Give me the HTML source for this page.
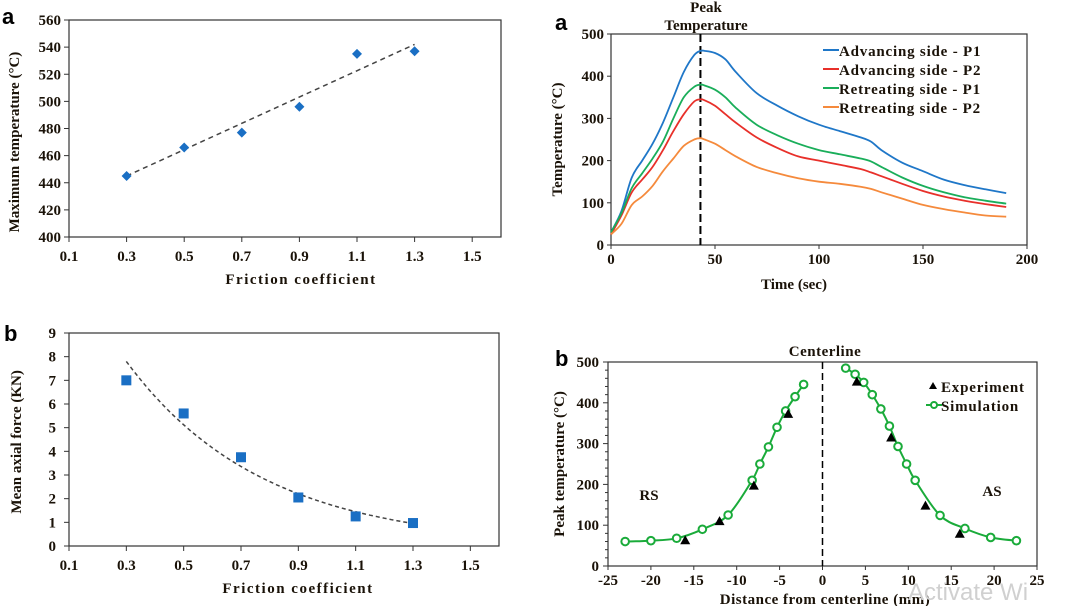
<!DOCTYPE html>
<html><head><meta charset="utf-8"><style>
html,body{margin:0;padding:0;background:#fff;}
svg{display:block;font-family:"Liberation Serif",serif;font-weight:bold;}
.t{font-size:15px;fill:#1a1208;}
.lab{font-family:"Liberation Sans",sans-serif;font-size:22px;fill:#000;font-weight:bold;}
</style></head><body>
<svg id="c" width="1065" height="606" viewBox="0 0 1065 606" xmlns="http://www.w3.org/2000/svg"></svg>
<script>
// Panel A-left: max temperature vs friction
const fricCats = [0.3,0.5,0.7,0.9,1.1,1.3];
const maxTemp = [445,466,477,496,535,537];
const maxTempTrend = [445,542];
// Panel B-left: axial force vs friction
const axialForce = [7.0,5.6,3.75,2.05,1.25,0.97];
const forceTrendStart = 7.8, forceTrendEnd = 0.95;
const fricTicks = ['0.1','0.3','0.5','0.7','0.9','1.1','1.3','1.5'];
// Panel A-right: thermal cycles
const timeSec = [0,5,10,15,20,25,30,35,40,43,45,50,55,60,70,80,90,100,110,120,125,130,140,150,160,170,180,190];
const asP1 = [30,80,160,200,240,290,350,410,450,460,460,455,440,410,360,330,305,285,270,255,245,225,195,175,155,142,132,123];
const asP2 = [25,70,125,155,185,225,270,310,340,345,343,330,310,290,255,230,210,200,190,180,172,163,145,128,115,105,97,90];
const rsP1 = [30,75,135,170,205,245,300,350,375,380,378,368,350,325,285,260,240,225,215,205,198,185,160,140,125,113,105,98];
const rsP2 = [25,50,95,115,140,175,205,235,250,253,250,240,225,210,185,170,158,150,145,138,133,125,110,95,85,77,70,67];
const peakTime = 43;
// Panel B-right: peak temperature vs distance
const simX = [-23,-20,-17,-14,-11,-8.2,-7.3,-6.3,-5.3,-4.3,-3.2,-2.2,null,2.7,3.8,4.8,5.8,6.8,7.8,8.8,9.8,10.8,13.7,16.6,19.6,22.6];
const simY = [60,62,68,90,125,210,250,292,340,380,415,445,null,485,470,450,420,385,343,293,250,210,124,92,70,62];
const expX = [-16,-12,-8,-4,4,8,12,16];
const expY = [63,110,197,373,452,315,148,79];

const svg=document.getElementById('c');
const NS='http://www.w3.org/2000/svg';
function mk(tag,attrs,parent,name,text){
  const e=document.createElementNS(NS,tag);
  for(const k in attrs)e.setAttribute(k,attrs[k]);
  
  
  if(text!==undefined)e.textContent=text;
  (parent||svg).appendChild(e);return e;
}
function scale(d0,d1,r0,r1){return v=>r0+(v-d0)/(d1-d0)*(r1-r0);}
function frame(g,x0,y0,x1,y1){mk('rect',{x:x0,y:y0,width:x1-x0,height:y1-y0,fill:'none',stroke:'#333','stroke-width':1.2},g,'plot-frame');}
function smooth(pts){let d='M'+pts[0][0].toFixed(1)+' '+pts[0][1].toFixed(1);
 for(let i=0;i<pts.length-1;i++){const p0=pts[i-1]||pts[i],p1=pts[i],p2=pts[i+1],p3=pts[i+2]||p2;
  const c1=[p1[0]+(p2[0]-p0[0])/6,p1[1]+(p2[1]-p0[1])/6],c2=[p2[0]-(p3[0]-p1[0])/6,p2[1]-(p3[1]-p1[1])/6];
  d+=`C${c1[0].toFixed(1)} ${c1[1].toFixed(1)} ${c2[0].toFixed(1)} ${c2[1].toFixed(1)} ${p2[0].toFixed(1)} ${p2[1].toFixed(1)}`;}
 return d;}

// ---------- Panel TL ----------
{
const g=mk('g',{},svg,'max-temp-chart');
const X=scale(0.1,1.6,69,501), Y=scale(400,560,237,20);
frame(g,69,20,501,237);
mk('text',{x:2,y:24,class:'lab'},g,'panel-label-a','a');
for(let v=400;v<=560;v+=20){const y=Y(v);
 mk('line',{x1:64,x2:69,y1:y,y2:y,stroke:'#333'},g,'y-tick');
 mk('text',{x:61,y:y+5,class:'t','font-size':16,'text-anchor':'end'},g,'y-tick-label',v);}
fricTicks.forEach(s=>{const x=X(+s);
 mk('line',{x1:x,x2:x,y1:237,y2:242,stroke:'#333'},g,'x-tick');
 mk('text',{x:x,y:261,class:'t','font-size':16,'text-anchor':'middle'},g,'x-tick-label',s);});
mk('text',{x:301,y:284,class:'t','font-size':18,'text-anchor':'middle','letter-spacing':'1.5'},g,'x-axis-title','Friction coefficient');
mk('text',{x:0,y:0,class:'t','font-size':17,'text-anchor':'middle',transform:`translate(19,${Y(470)}) rotate(-90)`},g,'y-axis-title','Maximum temperature (°C)');
mk('line',{x1:X(0.3),y1:Y(maxTempTrend[0]),x2:X(1.3),y2:Y(maxTempTrend[1]),stroke:'#444','stroke-width':1.5,'stroke-dasharray':'5,4'},g,'trend-line');
fricCats.forEach((c,i)=>{const x=X(c),y=Y(maxTemp[i]);
 mk('path',{d:`M${x} ${y-5}L${x+5} ${y}L${x} ${y+5}L${x-5} ${y}Z`,fill:'#1a6fc4'},g,'data-point');});
}
// ---------- Panel BL ----------
{
const g=mk('g',{},svg,'axial-force-chart');
const X=scale(0.1,1.6,69,499), Y=scale(0,9,546,333);
frame(g,69,333,499,546);
mk('text',{x:4,y:341,class:'lab'},g,'panel-label-b','b');
for(let v=0;v<=9;v++){const y=Y(v);
 mk('line',{x1:64,x2:69,y1:y,y2:y,stroke:'#333'},g,'y-tick');
 mk('text',{x:56,y:y+5,class:'t','font-size':16,'text-anchor':'end'},g,'y-tick-label',v);}
fricTicks.forEach(s=>{const x=X(+s);
 mk('line',{x1:x,x2:x,y1:546,y2:551,stroke:'#333'},g,'x-tick');
 mk('text',{x:x,y:570,class:'t','font-size':16,'text-anchor':'middle'},g,'x-tick-label',s);});
mk('text',{x:298,y:593,class:'t','font-size':18,'text-anchor':'middle','letter-spacing':'1.5'},g,'x-axis-title','Friction coefficient');
mk('text',{x:0,y:0,class:'t','font-size':17,'text-anchor':'middle',transform:`translate(21,${Y(4.4)}) rotate(-90)`},g,'y-axis-title','Mean axial force (KN)');
const b=Math.log(forceTrendStart/forceTrendEnd);let d='';
for(let i=0;i<=40;i++){const xv=0.3+i/40;const yv=forceTrendStart*Math.exp(-b*(xv-0.3));d+=(i?'L':'M')+X(xv).toFixed(1)+' '+Y(yv).toFixed(1);}
mk('path',{d:d,fill:'none',stroke:'#444','stroke-width':1.5,'stroke-dasharray':'4,3'},g,'trend-curve');
fricCats.forEach((c,i)=>{const x=X(c),y=Y(axialForce[i]);
 mk('rect',{x:x-5,y:y-5,width:10,height:10,fill:'#1a6fc4'},g,'data-point');});
}
// ---------- Panel TR ----------
{
const g=mk('g',{},svg,'thermal-cycle-chart');
const X=scale(0,200,611,1027), Y=scale(0,500,245,34);
frame(g,611,34,1027,245);
mk('text',{x:555,y:30,class:'lab'},g,'panel-label-a2','a');
for(let v=0;v<=500;v+=100){const y=Y(v);
 mk('line',{x1:607,x2:611,y1:y,y2:y,stroke:'#333'},g,'y-tick');
 mk('text',{x:604,y:y+5,class:'t','font-size':14,'text-anchor':'end'},g,'y-tick-label',v);}
for(let v=0;v<=200;v+=50){const x=X(v);
 mk('line',{x1:x,x2:x,y1:245,y2:249,stroke:'#333'},g,'x-tick');
 mk('text',{x:x,y:264,class:'t','font-size':14,'text-anchor':'middle'},g,'x-tick-label',v);}
mk('text',{x:794,y:289,class:'t','font-size':16,'text-anchor':'middle'},g,'x-axis-title','Time (sec)');
mk('text',{x:0,y:0,class:'t','font-size':16,'text-anchor':'middle',transform:`translate(562,${Y(250)}) rotate(-90)`},g,'y-axis-title','Temperature (°C)');
mk('line',{x1:X(peakTime),x2:X(peakTime),y1:34,y2:245,stroke:'#000','stroke-width':2,'stroke-dasharray':'8,4'},g,'peak-line');
mk('text',{x:706,y:12,class:'t','text-anchor':'middle'},g,'peak-label','Peak');
mk('text',{x:706,y:30,class:'t','text-anchor':'middle'},g,'peak-label','Temperature');
const series=[[asP1,'#1f77c8','Advancing side - P1'],[asP2,'#e8302a','Advancing side - P2'],[rsP1,'#1aae5a','Retreating side - P1'],[rsP2,'#f58a3c','Retreating side - P2']];
series.forEach((s,k)=>{
 const pts=timeSec.map((t,i)=>[X(t),Y(s[0][i])]);
 mk('path',{d:smooth(pts),fill:'none',stroke:s[1],'stroke-width':1.8,'stroke-linejoin':'round'},g,'series-line');
 const ly=50+k*19;
 mk('line',{x1:823,x2:839,y1:ly,y2:ly,stroke:s[1],'stroke-width':2},g,'legend-swatch');
 mk('text',{x:839,y:ly+6,class:'t','font-size':16.5,'letter-spacing':'0.8'},g,'legend-entry',s[2]);
});
}
// ---------- Panel BR ----------
{
const g=mk('g',{},svg,'peak-temp-chart');
const X=scale(-25,25,608,1037), Y=scale(0,500,566,362);
frame(g,608,362,1037,566);
mk('text',{x:555,y:366,class:'lab'},g,'panel-label-b2','b');
for(let v=0;v<=500;v+=20){const y=Y(v);const major=v%100===0;
 mk('line',{x1:major?603:605,x2:608,y1:y,y2:y,stroke:'#333'},g,'y-tick');
 if(major)mk('text',{x:599,y:y+5,class:'t','font-size':14,'text-anchor':'end'},g,'y-tick-label',v);}
for(let v=-25;v<=25;v+=5){const x=X(v);
 mk('line',{x1:x,x2:x,y1:566,y2:570,stroke:'#333'},g,'x-tick');
 mk('text',{x:x,y:585,class:'t','font-size':14,'text-anchor':'middle'},g,'x-tick-label',v);}
mk('text',{x:825,y:604,class:'t','font-size':16,'text-anchor':'middle','letter-spacing':'0.5'},g,'x-axis-title','Distance from centerline (mm)');
mk('text',{x:0,y:0,class:'t','font-size':16,'text-anchor':'middle',transform:`translate(564,${Y(250)}) rotate(-90)`},g,'y-axis-title','Peak temperature (°C)');
mk('line',{x1:X(0),x2:X(0),y1:362,y2:566,stroke:'#000','stroke-width':1.5,'stroke-dasharray':'7,4'},g,'centerline');
mk('text',{x:825,y:356,class:'t','font-size':16,'text-anchor':'middle','letter-spacing':'0.5'},g,'centerline-label','Centerline');
mk('text',{x:649,y:500,class:'t','font-size':21,'text-anchor':'middle'},g,'rs-label','RS');
mk('text',{x:992,y:496,class:'t','font-size':21,'text-anchor':'middle'},g,'as-label','AS');
const left=[],right=[];let cur=left;
simX.forEach((x,i)=>{if(x===null){cur=right;return;}cur.push([X(x),Y(simY[i])]);});
[left,right].forEach(p=>mk('path',{d:smooth(p),fill:'none',stroke:'#1aab3a','stroke-width':2},g,'simulation-line'));
simX.forEach((x,i)=>{if(x===null)return;
 mk('circle',{cx:X(x),cy:Y(simY[i]),r:3.8,fill:'#fff',stroke:'#1aab3a','stroke-width':2},g,'simulation-point');});
expX.forEach((x,i)=>{const px=X(x),py=Y(expY[i]);
 mk('path',{d:`M${px} ${py-5}L${px+5} ${py+4}L${px-5} ${py+4}Z`,fill:'#000'},g,'experiment-point');});
mk('path',{d:'M933 382L937 389L929 389Z',fill:'#000'},g,'legend-swatch');
mk('text',{x:941,y:392,class:'t','font-size':16.5,'letter-spacing':'0.8'},g,'legend-entry','Experiment');
mk('line',{x1:926,x2:942,y1:405,y2:405,stroke:'#1aab3a','stroke-width':2},g,'legend-swatch');
mk('circle',{cx:934,cy:405,r:3,fill:'#fff',stroke:'#1aab3a','stroke-width':2},g,'legend-swatch');
mk('text',{x:941,y:411,class:'t','font-size':16.5,'letter-spacing':'0.8'},g,'legend-entry','Simulation');
mk('text',{x:908,y:600,'font-family':'Liberation Sans,sans-serif','font-size':24,'font-weight':'normal',fill:'#d0d0d0'},g,'watermark','Activate Wi');
}
</script>
</body></html>
